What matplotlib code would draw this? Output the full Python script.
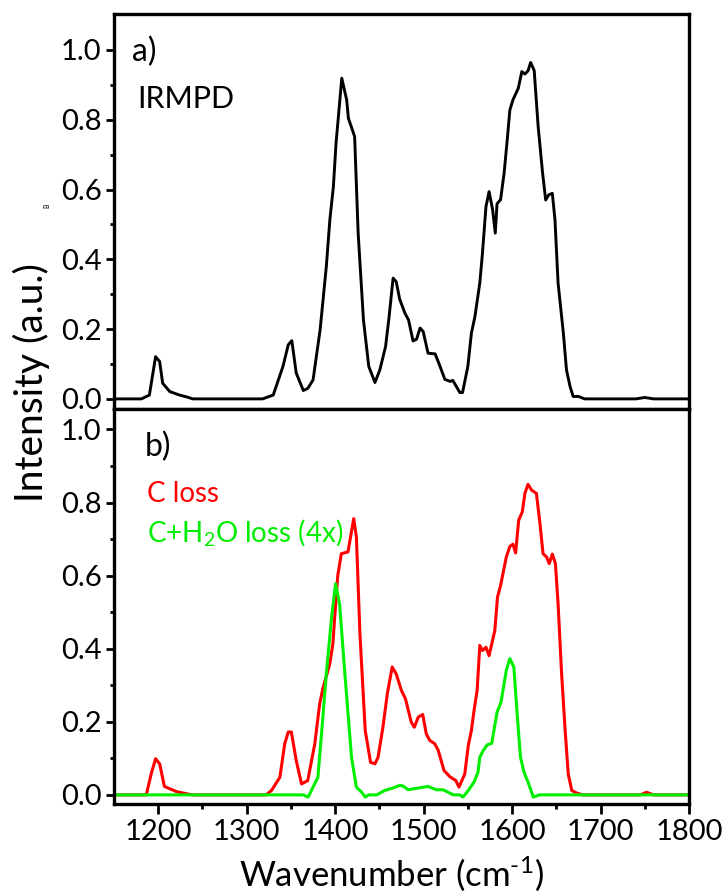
import matplotlib
matplotlib.use('Agg')
import matplotlib.pyplot as plt
from matplotlib.ticker import FixedLocator, FormatStrFormatter

# ---------------- data ----------------
irmpd_x = [1150, 1181, 1190, 1197, 1201.6, 1205, 1213, 1224, 1233, 1239, 1318, 1330, 1341, 1347, 1351,
           1356, 1364, 1369, 1375, 1383, 1390, 1394, 1398, 1401, 1407.5, 1413, 1415, 1422, 1426, 1432,
           1438, 1445, 1450.5, 1457, 1461, 1465.5, 1469, 1473, 1479, 1483, 1488, 1492, 1496, 1499.5,
           1505, 1513, 1518, 1524, 1530, 1533, 1541, 1544, 1550, 1554, 1558, 1563.5, 1566.5, 1570.5,
           1574, 1578, 1581, 1583, 1587, 1591, 1594.5, 1597.5, 1601, 1607, 1611, 1614.5, 1618, 1621,
           1625, 1629.5, 1634.5, 1638, 1641.5, 1645.5, 1648.5, 1652, 1658, 1661.5, 1665.5, 1669, 1675,
           1682, 1740, 1750, 1760, 1800]
irmpd_y = [0, 0, 0.011, 0.121, 0.107, 0.045, 0.021, 0.011, 0.005, 0, 0, 0.011, 0.093, 0.155, 0.167,
           0.074, 0.024, 0.030, 0.054, 0.198, 0.379, 0.513, 0.608, 0.733, 0.919, 0.857, 0.804, 0.752, 0.475, 0.226,
           0.093, 0.047, 0.083, 0.150, 0.236, 0.346, 0.336, 0.285, 0.245, 0.226, 0.166, 0.171, 0.203, 0.193,
           0.131, 0.129, 0.097, 0.056, 0.050, 0.053, 0.018, 0.018, 0.093, 0.188, 0.236, 0.332, 0.417, 0.551,
           0.594, 0.542, 0.475, 0.559, 0.571, 0.647, 0.742, 0.828, 0.857, 0.890, 0.938, 0.931, 0.940, 0.964,
           0.941, 0.780, 0.647, 0.570, 0.585, 0.589, 0.513, 0.332, 0.188, 0.083, 0.036, 0.007, 0.007,
           0, 0, 0.004, 0, 0]

closs_x = [1150, 1186.5, 1192, 1197, 1201.6, 1207, 1220.5, 1232, 1239, 1322, 1328, 1337.5, 1343, 1347,
           1350.5, 1356, 1362, 1369, 1377, 1382.5, 1386, 1394, 1397.5, 1399.5, 1403, 1407, 1414.5, 1421,
           1424, 1428, 1434, 1440, 1445, 1448.5, 1454, 1459, 1464.5, 1469, 1475, 1479.5, 1486, 1489.5,
           1494, 1499, 1503, 1507, 1512.5, 1516.5, 1523, 1529.5, 1536.5, 1540, 1546.5, 1550.5, 1554, 1557,
           1560.5, 1563.5, 1566.5, 1570.5, 1574, 1580.5, 1583.5, 1587, 1593.5, 1597.5, 1601, 1604, 1607.5,
           1611.5, 1614.5, 1618, 1622, 1627.5, 1631.5, 1635, 1639, 1642, 1645.5, 1649, 1652, 1656, 1660,
           1663.5, 1667.5, 1673, 1680, 1745, 1752, 1760, 1800]
closs_y = [0, 0, 0.057, 0.099, 0.085, 0.023, 0.009, 0.003, 0, 0, 0.012, 0.048, 0.140, 0.172,
           0.172, 0.094, 0.030, 0.039, 0.140, 0.249, 0.290, 0.359, 0.414, 0.487, 0.601, 0.660, 0.665, 0.756,
           0.706, 0.441, 0.176, 0.089, 0.085, 0.103, 0.185, 0.277, 0.350, 0.331, 0.285, 0.263, 0.199, 0.185,
           0.213, 0.220, 0.167, 0.149, 0.140, 0.122, 0.067, 0.050, 0.039, 0.021, 0.057, 0.135, 0.176, 0.231,
           0.286, 0.409, 0.395, 0.404, 0.381, 0.450, 0.541, 0.573, 0.651, 0.680, 0.686, 0.662, 0.752,
           0.774, 0.825, 0.850, 0.834, 0.825, 0.743, 0.660, 0.651, 0.633, 0.659, 0.633, 0.523, 0.331, 0.176,
           0.057, 0.012, 0.005, 0, 0, 0.007, 0, 0]

h2o_x = [1150, 1364, 1369.5, 1375, 1380.5, 1385.5, 1390, 1396, 1400.5, 1405, 1411, 1418.5, 1424, 1430,
         1434, 1438, 1447, 1456, 1465.5, 1473, 1477, 1482.5, 1492, 1505, 1514.5, 1522, 1533.5, 1541,
         1544.5, 1550.5, 1557, 1561.5, 1563.5, 1567.5, 1572, 1577, 1583, 1587.5, 1593.5, 1597.5, 1602,
         1606, 1609.5, 1613.5, 1618, 1624, 1631, 1800]
h2o_y = [0, 0, -0.006, 0.021, 0.048, 0.194, 0.331, 0.487, 0.578, 0.523, 0.331, 0.103, 0.021, 0.007,
         -0.006, 0, 0, 0.012, 0.019, 0.026, 0.024, 0.014, 0.018, 0.023, 0.014, 0.014, 0, 0,
         -0.006, 0.012, 0.035, 0.062, 0.103, 0.122, 0.137, 0.141, 0.226, 0.254, 0.341, 0.373, 0.350,
         0.213, 0.103, 0.062, 0.035, -0.006, 0, 0]

x_ticks = [1200, 1300, 1400, 1500, 1600, 1700, 1800]
x_minor = [1250, 1350, 1450, 1550, 1650, 1750]
y_ticks = [0.0, 0.2, 0.4, 0.6, 0.8, 1.0]
y_minor = [0.1, 0.3, 0.5, 0.7, 0.9]

# ---------------- style ----------------
plt.rcParams['font.family'] = ['Lato', 'DejaVu Sans']
plt.rcParams['mathtext.fontset'] = 'custom'
plt.rcParams['mathtext.rm'] = 'Lato'
plt.rcParams['mathtext.it'] = 'Lato'
plt.rcParams['mathtext.bf'] = 'Lato'

W, H = 726, 894
fig = plt.figure(figsize=(W / 100, H / 100), dpi=100)
L, R = 114 / W, 689 / W
ax1 = fig.add_axes([L, 1 - 409 / H, R - L, (409 - 14) / H])
ax2 = fig.add_axes([L, 1 - 804 / H, R - L, (804 - 409) / H])

ax1.plot(irmpd_x, irmpd_y, color='black', lw=2.1)
ax2.plot(closs_x, closs_y, color='#ff0000', lw=2.2)
ax2.plot(h2o_x, h2o_y, color='#00ee00', lw=2.2)

for ax in (ax1, ax2):
    ax.set_xlim(1150, 1800)
    for s in ax.spines.values():
        s.set_linewidth(2.4)
    ax.yaxis.set_major_locator(FixedLocator(y_ticks))
    ax.yaxis.set_minor_locator(FixedLocator(y_minor))
    ax.yaxis.set_major_formatter(FormatStrFormatter('%.1f'))
    ax.xaxis.set_major_locator(FixedLocator(x_ticks))
    ax.xaxis.set_minor_locator(FixedLocator(x_minor))
    ax.tick_params(axis='y', which='both', left=True, right=False, direction='out',
                   width=2.0, labelsize=21, pad=3)
    ax.tick_params(axis='y', which='major', length=6)
    ax.tick_params(axis='y', which='minor', length=3)

ax1.set_ylim(-0.029, 1.103)
ax2.set_ylim(-0.025, 1.056)

ax1.tick_params(axis='x', which='both', bottom=True, top=False, direction='out',
                width=2.0, length=4.5, labelbottom=False)
ax2.tick_params(axis='x', which='both', bottom=True, top=False, direction='out',
                width=2.0, labelsize=21, pad=4)
ax2.tick_params(axis='x', which='major', length=7)
ax2.tick_params(axis='x', which='minor', length=3.5)


def fx(px):
    return px / W


def fy(py):
    return 1 - py / H


fig.text(fx(132), fy(61), 'a)', fontsize=23, va='baseline', ha='left')
fig.text(fx(137), fy(108), 'IRMPD', fontsize=22, va='baseline', ha='left')
fig.text(fx(145), fy(456), 'b)', fontsize=23, va='baseline', ha='left')
fig.text(fx(147), fy(502), 'C loss', fontsize=20, va='baseline', ha='left', color='#ff0000')
fig.text(fx(147), fy(542), 'C+H$_2$O loss (4x)', fontsize=20, va='baseline', ha='left', color='#00ee00')
fig.text(fx(47), fy(206), 'B', fontsize=5, rotation=90, va='center', ha='center')

fig.text(fx(31), fy(383), 'Intensity (a.u.)', fontsize=28, rotation=90, va='center', ha='center')
fig.text(fx(391), fy(886), 'Wavenumber (cm$^{\\text{-}1}$)', fontsize=25, va='baseline', ha='center')

fig.savefig('out.png', dpi=100)
